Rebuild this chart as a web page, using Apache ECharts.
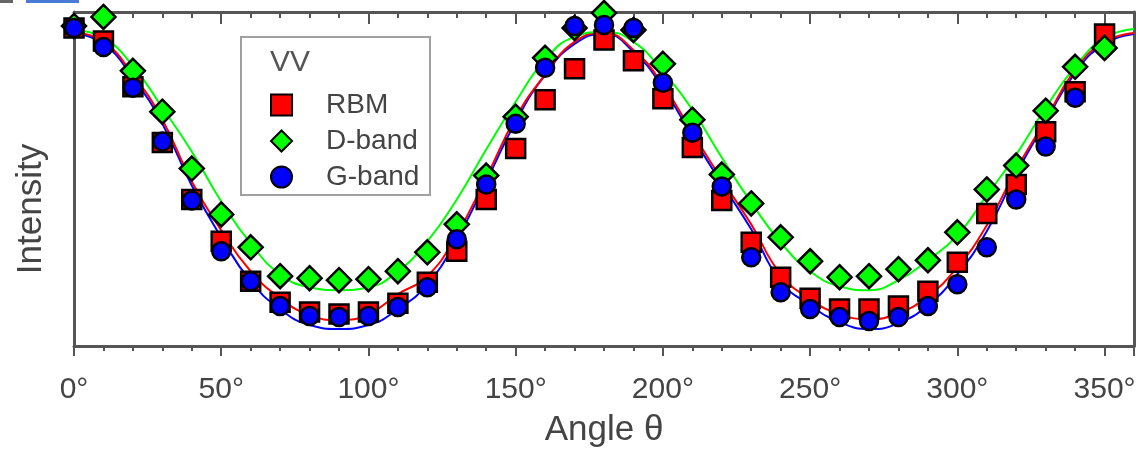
<!DOCTYPE html>
<html>
<head>
<meta charset="utf-8">
<script src="https://cdn.jsdelivr.net/npm/echarts@6/dist/echarts.min.js"></script>
<style>
  html, body { margin: 0; padding: 0; background: #fff; }
  #main { width: 1139px; height: 453px; }
</style>
</head>
<body>
<div id="main"></div>
<script>
// measured points, every 10 degrees (arbitrary intensity units)
var angles = [0, 10, 20, 30, 40, 50, 60, 70, 80, 90, 100, 110, 120, 130, 140, 150, 160, 170,
  180, 190, 200, 210, 220, 230, 240, 250, 260, 270, 280, 290, 300, 310, 320, 330, 340, 350];
var rbm = [319, 306, 260, 204, 147, 105, 65, 44, 34, 32, 34, 43, 64, 95, 147, 198, 247, 278,
  307, 286, 248, 199, 146, 104, 69, 48, 37, 37, 40, 55, 84, 133, 162, 215, 255, 313];
var dband = [321, 330, 276, 235, 178, 132, 99, 70, 68, 66, 67, 75, 94, 122, 171, 230, 289, 319,
  334, 317, 283, 227, 172, 143, 109, 85, 69, 70, 77, 86, 114, 157, 181, 236, 280, 299];
var gband = [319, 300, 259, 205, 146, 95, 65, 40, 30, 29, 30, 39, 59, 107, 162, 223, 279, 321,
  322, 319, 264, 214, 160, 89, 54, 37, 29, 25, 29, 40, 62, 99, 147, 200, 249, null];

// fitted curves
var fitAngles = [0, 10, 20, 30, 40, 50, 60, 70, 80, 90, 100, 110, 120, 130, 140, 150, 160, 170,
  180, 190, 200, 210, 220, 230, 240, 250, 260, 270, 280, 290, 300, 310, 320, 330, 340, 350, 360];
var rbmFit = [315, 305, 272, 227, 165, 116, 75, 48, 31, 26, 32, 52, 70, 112, 169, 229, 272, 305,
  314, 297, 262, 214, 167, 122, 72, 47, 32, 27, 33, 50, 79, 121, 177, 227, 277, 305, 314];
var dbandFit = [317, 309, 281, 239, 195, 145, 103, 72, 59, 56, 59, 75, 105, 147, 197, 245, 287, 310,
  315, 305, 275, 237, 189, 144, 104, 75, 60, 56, 66, 86, 111, 151, 192, 239, 280, 309, 318];
var gbandFit = [314, 303, 269, 223, 161, 109, 65, 37, 21, 17, 21, 37, 62, 107, 165, 225, 272, 303,
  313, 295, 259, 210, 163, 117, 65, 41, 24, 17, 23, 41, 72, 115, 173, 225, 274, 303, 313];

var xTicks = [0, 50, 100, 150, 200, 250, 300, 350];

function pairs(xs, ys) {
  var out = [];
  for (var i = 0; i < xs.length; i++) {
    if (ys[i] != null) out.push([xs[i], ys[i]]);
  }
  return out;
}

var font = 'Liberation Sans, Arial, sans-serif';
var frame = '#555';

var chart = echarts.init(document.getElementById('main'), null, { renderer: 'canvas' });

function fitLine(name, color, data, z) {
  return {
    name: name, type: 'line', smooth: 0.5, showSymbol: false, z: z,
    lineStyle: { color: color, width: 2 },
    itemStyle: { color: color },
    data: data, silent: true
  };
}
function points(name, symbol, size, color, data, z) {
  return {
    name: name, type: 'scatter', symbol: symbol, symbolSize: size, z: z,
    itemStyle: { color: color, borderColor: '#000', borderWidth: 2.5, opacity: 1 },
    data: data
  };
}

chart.setOption({
  animation: false,
  backgroundColor: '#fff',
  grid: { left: 74, right: 5, top: 12, bottom: 105 },
  xAxis: [{
    type: 'value', min: 0, max: 360, interval: 50, position: 'bottom',
    name: 'Angle θ', nameLocation: 'middle', nameGap: 67,
    nameTextStyle: { fontSize: 35, color: '#444', fontFamily: font },
    axisLine: { show: true, onZero: false, lineStyle: { color: frame, width: 3 } },
    axisTick: { show: true, inside: false, length: 10, lineStyle: { color: frame, width: 2 } },
    minorTick: { show: true, splitNumber: 5, length: 5, lineStyle: { color: frame, width: 2 } },
    axisLabel: {
      fontSize: 30, color: '#444', fontFamily: font, margin: 29, showMaxLabel: false,
      formatter: function (v) { return xTicks.indexOf(v) >= 0 ? v + '°' : ''; }
    },
    splitLine: { show: false }
  }, {
    type: 'value', min: 0, max: 360, interval: 50, position: 'top',
    axisLine: { show: true, onZero: false, lineStyle: { color: frame, width: 3 } },
    axisTick: { show: true, inside: true, length: 12, lineStyle: { color: frame, width: 2 } },
    minorTick: { show: true, splitNumber: 5, length: 6, lineStyle: { color: frame, width: 2 } },
    axisLabel: { show: false },
    splitLine: { show: false }
  }],
  yAxis: [{
    type: 'value', min: 0, max: 335, position: 'left',
    axisLine: { show: true, onZero: false, lineStyle: { color: frame, width: 3 } },
    axisTick: { show: false }, axisLabel: { show: false }, splitLine: { show: false }
  }, {
    type: 'value', min: 0, max: 335, position: 'right',
    axisLine: { show: true, onZero: false, lineStyle: { color: frame, width: 3 } },
    axisTick: { show: false }, axisLabel: { show: false }, splitLine: { show: false }
  }],
  legend: {
    orient: 'vertical', left: 265, top: 86, itemWidth: 21, itemHeight: 21, itemGap: 8,
    data: [
      { name: 'RBM', icon: 'rect' },
      { name: 'D-band', icon: 'diamond' },
      { name: 'G-band', icon: 'circle' }
    ],
    textStyle: { fontSize: 28, color: '#444', fontFamily: font, padding: [0, 0, 0, 29] },
    selectedMode: false, z: 10
  },
  graphic: [
    { type: 'rect', left: 0, top: 0, shape: { width: 13, height: 3 }, style: { fill: '#666' } },
    { type: 'rect', left: 26, top: 0, shape: { width: 53, height: 3 }, style: { fill: '#4a7bd4' } },
    {
      type: 'rect', z: 1, shape: { x: 241, y: 37, width: 189, height: 158 },
      style: { fill: '#fff', stroke: '#a0a0a0', lineWidth: 2 }
    },
    {
      type: 'text', z: 11, x: 270, y: 63,
      style: { text: 'VV', font: '30px ' + font, fill: '#555', textAlign: 'left', textVerticalAlign: 'middle' }
    },
    {
      type: 'text', x: 31, y: 209, rotation: Math.PI / 2,
      style: { text: 'Intensity', font: '35px ' + font, fill: '#444', textAlign: 'center', textVerticalAlign: 'middle' }
    }
  ],
  series: [
    fitLine('G-band fit', '#0000ff', pairs(fitAngles, gbandFit), 2),
    fitLine('RBM fit', '#ff0000', pairs(fitAngles, rbmFit), 2),
    fitLine('D-band fit', '#00ff00', pairs(fitAngles, dbandFit), 2),
    points('RBM', 'rect', 19, '#ff0000', pairs(angles, rbm), 3),
    points('D-band', 'diamond', 24, '#00ff00', pairs(angles, dband), 4),
    points('G-band', 'circle', 18, '#0000ff', pairs(angles, gband), 5)
  ]
});
</script>
</body>
</html>
